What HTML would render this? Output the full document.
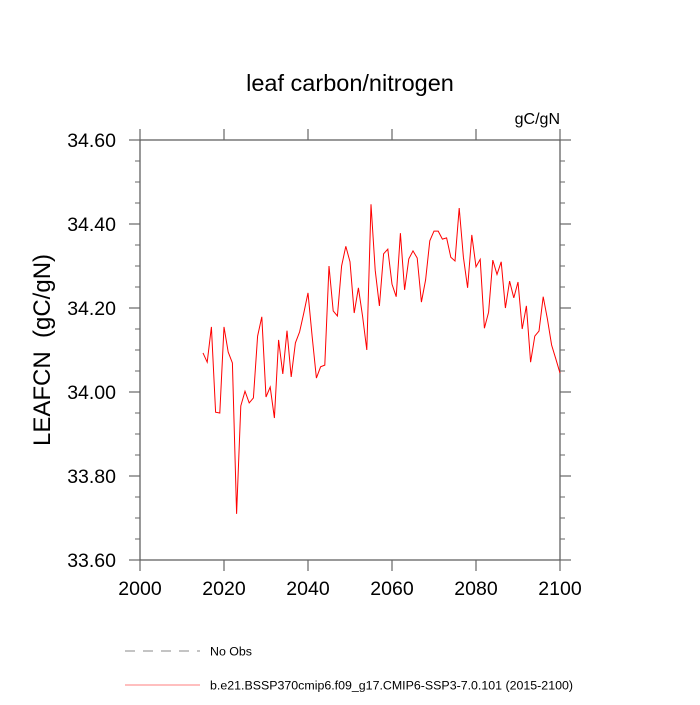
<!DOCTYPE html>
<html><head><meta charset="utf-8"><style>
body{margin:0;background:#fff}
svg text{font-family:"Liberation Sans",sans-serif}
</style></head><body>
<svg id="c" width="700" height="700">
<text x="350" y="91" font-size="23.5" text-anchor="middle">leaf carbon/nitrogen</text>
<text x="560" y="124" font-size="16" text-anchor="end">gC/gN</text>
<text transform="translate(50,350) rotate(-90)" font-size="24" text-anchor="middle">LEAFCN&#160;&#160;(gC/gN)</text>
<g id="axes"></g>
<g id="series"></g>
<line x1="125" y1="651" x2="200" y2="651" stroke="#888" stroke-width="1" stroke-dasharray="10,8"/>
<text x="210" y="655.5" font-size="12.4">No Obs</text>
<line x1="125" y1="685" x2="200" y2="685" stroke="#f00" stroke-width="0.6"/>
<text x="210" y="689.5" font-size="12.4">b.e21.BSSP370cmip6.f09_g17.CMIP6-SSP3-7.0.101 (2015-2100)</text>
</svg>
<script>
const years=[];for(let y=2015;y<=2100;y++)years.push(y);
const values=[34.093,34.071,34.155,33.952,33.950,34.155,34.095,34.069,33.710,33.967,34.002,33.974,33.986,34.133,34.179,33.988,34.012,33.938,34.124,34.043,34.146,34.036,34.117,34.143,34.188,34.236,34.131,34.033,34.060,34.064,34.300,34.193,34.181,34.300,34.347,34.310,34.188,34.248,34.180,34.100,34.447,34.290,34.205,34.329,34.340,34.257,34.227,34.378,34.243,34.317,34.336,34.319,34.214,34.267,34.360,34.383,34.383,34.364,34.367,34.321,34.312,34.438,34.321,34.248,34.374,34.298,34.316,34.152,34.190,34.314,34.280,34.310,34.200,34.264,34.224,34.262,34.150,34.205,34.071,34.133,34.145,34.227,34.174,34.112,34.079,34.045];
const xTicks=[2000,2020,2040,2060,2080,2100];
const yTicks=[33.6,33.8,34.0,34.2,34.4,34.6];
const yTickLabels=["33.60","33.80","34.00","34.20","34.40","34.60"];
const L=140,R=560,T=140,B=560;
const xs=v=>L+(v-2000)/100*(R-L);
const ys=v=>B-(v-33.6)/1.0*(B-T);
const NS="http://www.w3.org/2000/svg";
function mk(tag,at,parent){const e=document.createElementNS(NS,tag);for(const k in at)e.setAttribute(k,at[k]);parent.appendChild(e);return e;}
const ax=document.getElementById('axes');
const box=mk('rect',{x:L,y:T,width:R-L,height:B-T,fill:'none',stroke:'#555','stroke-width':1.2},ax);


const col='#666';
xTicks.forEach(t=>{const x=xs(t);
 mk('line',{x1:x,y1:B,x2:x,y2:B+11,stroke:col,'stroke-width':1.2},ax);
 mk('line',{x1:x,y1:T,x2:x,y2:T-11,stroke:col,'stroke-width':1.2},ax);
 const tx=mk('text',{x:x,y:595,'font-size':19.5,'text-anchor':'middle'},ax);tx.textContent=t;
 
 
});
yTicks.forEach((t,i)=>{const y=ys(t);
 mk('line',{x1:L,y1:y,x2:L-11,y2:y,stroke:col,'stroke-width':1.2},ax);
 mk('line',{x1:R,y1:y,x2:R+11,y2:y,stroke:col,'stroke-width':1.2},ax);
 const tx=mk('text',{x:116,y:y+7,'font-size':19.5,'text-anchor':'end'},ax);tx.textContent=yTickLabels[i];
 
 
 if(i<yTicks.length-1)for(let k=1;k<4;k++){const yy=ys(t+0.05*k);
  mk('line',{x1:L,y1:yy,x2:L-5,y2:yy,stroke:col,'stroke-width':1},ax);
  mk('line',{x1:R,y1:yy,x2:R+5,y2:yy,stroke:col,'stroke-width':1},ax);}
});
const pts=years.map((y,i)=>xs(y).toFixed(1)+','+ys(values[i]).toFixed(1)).join(' ');
const pl=mk('polyline',{points:pts,fill:'none',stroke:'#f00','stroke-width':1},document.getElementById('series'));


</script>
</body></html>
